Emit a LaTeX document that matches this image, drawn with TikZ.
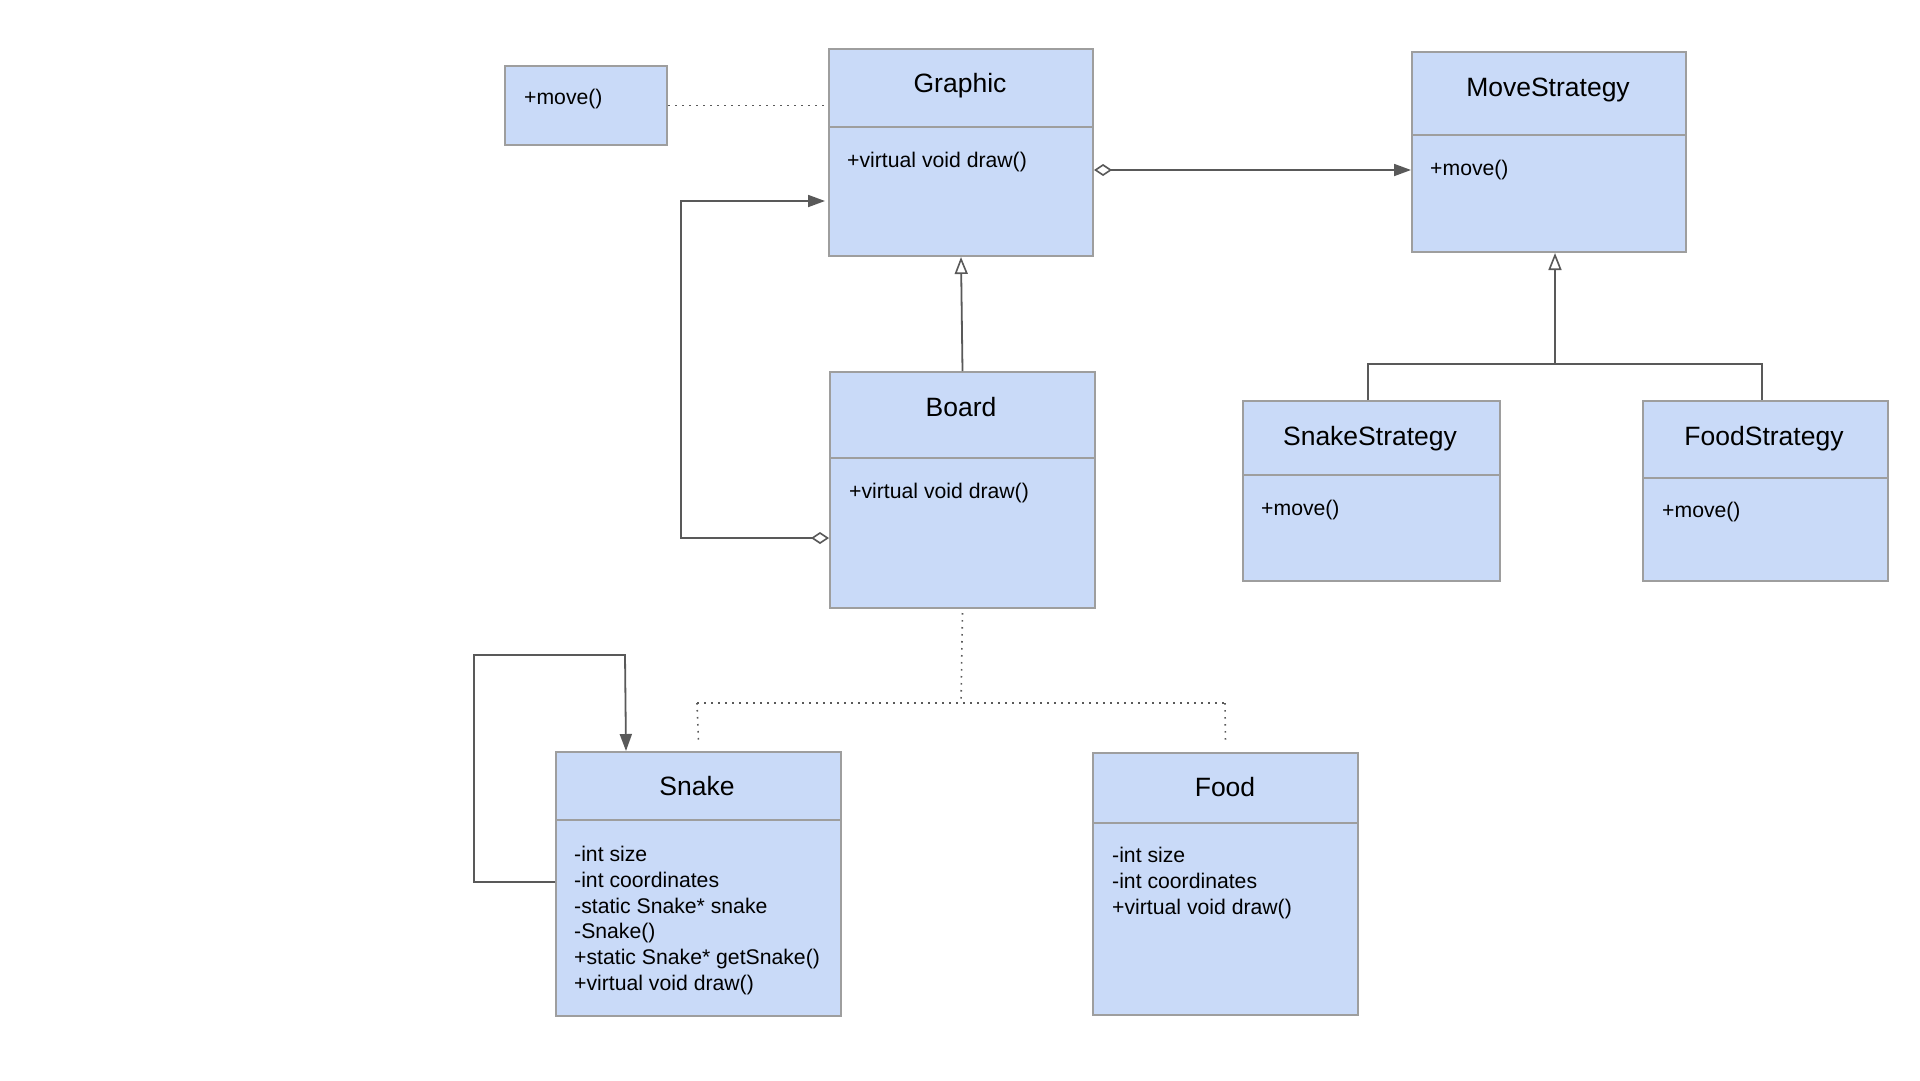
\documentclass[tikz,border=0pt]{standalone}
\usepackage{fontspec}
\setmainfont{Liberation Sans}
\usetikzlibrary{arrows.meta}
\definecolor{boxfill}{HTML}{C9DAF8}
\definecolor{boxline}{HTML}{9E9E9E}
\definecolor{conn}{HTML}{595959}
\begin{document}
\begin{tikzpicture}[x=1pt,y=-1pt,
  cls/.style={draw=boxline, fill=boxfill, line width=2pt, inner sep=0pt, anchor=north west},
  divider/.style={draw=boxline, line width=2pt},
  ttl/.style={font=\fontsize{26.5}{30}\selectfont, anchor=center, inner sep=0pt, text height=19pt, text depth=0pt},
  body/.style={font=\fontsize{21.2}{25.8}\selectfont, anchor=north west, align=left, inner sep=0pt},
  link/.style={draw=conn, line width=1.8pt},
  agg/.style={link, {Diamond[open,length=18pt,width=12pt,line width=1.6pt]}-{Triangle[length=17pt,width=12pt]}},
  assoc/.style={link, -{Triangle[length=17pt,width=12pt]}},
  inh/.style={link, -{Triangle[open,length=17pt,width=13pt,line width=1.6pt]}},
  dep/.style={draw=conn, line width=1.6pt, dash pattern=on 1.6pt off 5.4pt},
]
\useasboundingbox (0,0) rectangle (1920,1080);
\fill[white] (0,0) rectangle (1920,1080);

% +move() box
\node[cls, minimum width=162pt, minimum height=79pt] (mv) at (504,65) {};
\node[body] (mvB) at (524,89) {+move()};

% Graphic
\node[cls, minimum width=264pt, minimum height=207pt] (graphic) at (828,48) {};
\draw[divider] (graphic.west |- 0,127) -- (graphic.east |- 0,127);
\node[ttl] (graphicT) at (960,83) {Graphic};
\node[body] (graphicB) at (847,152) {+virtual void draw()};

% MoveStrategy
\node[cls, minimum width=274pt, minimum height=200pt] (ms) at (1411,51) {};
\draw[divider] (ms.west |- 0,135) -- (ms.east |- 0,135);
\node[ttl] (msT) at (1548,87) {MoveStrategy};
\node[body] (msB) at (1430,160) {+move()};

% Board
\node[cls, minimum width=265pt, minimum height=236pt] (board) at (829,371) {};
\draw[divider] (board.west |- 0,458) -- (board.east |- 0,458);
\node[ttl] (boardT) at (961,407) {Board};
\node[body] (boardB) at (849,483) {+virtual void draw()};

% SnakeStrategy
\node[cls, minimum width=257pt, minimum height=180pt] (ss) at (1242,400) {};
\draw[divider] (ss.west |- 0,475) -- (ss.east |- 0,475);
\node[ttl] (ssT) at (1370,436) {SnakeStrategy};
\node[body] (ssB) at (1261,500) {+move()};

% FoodStrategy
\node[cls, minimum width=245pt, minimum height=180pt] (fs) at (1642,400) {};
\draw[divider] (fs.west |- 0,478) -- (fs.east |- 0,478);
\node[ttl] (fsT) at (1764,436) {FoodStrategy};
\node[body] (fsB) at (1662,502) {+move()};

% Snake
\node[cls, minimum width=285pt, minimum height=264pt] (snake) at (555,751) {};
\draw[divider] (snake.west |- 0,820) -- (snake.east |- 0,820);
\node[ttl] (snakeT) at (697,786) {Snake};
\node[body] (snakeB) at (574,846) {-int size\\-int coordinates\\-static Snake* snake\\-Snake()\\+static Snake* getSnake()\\+virtual void draw()};

% Food
\node[cls, minimum width=265pt, minimum height=262pt] (food) at (1092,752) {};
\draw[divider] (food.west |- 0,823) -- (food.east |- 0,823);
\node[ttl] (foodT) at (1225,787) {Food};
\node[body] (foodB) at (1112,847) {-int size\\-int coordinates\\+virtual void draw()};

% connectors
\draw[dep] (mv.east) -- ([xshift=-4pt]graphic.west |- mv.east);
\draw[agg] (graphic.east |- 0,170) -- (ms.west |- 0,170);
\draw[inh] (board.north) -- (graphic.south);
\draw[agg] (board.west |- 0,538) -- (681,538) -- (681,201) -- ([xshift=-3pt]graphic.west |- 0,201);

\coordinate (junc) at (1555,364);
\draw[link] (ss.north -| 1368,0) -- (1368,364) -- (1762,364) -- (fs.north -| 1762,0);
\draw[inh] (junc) -- (ms.south -| junc);

\coordinate (djunc) at (961,703);
\draw[dep] ([yshift=-4pt]board.south) -- (djunc);
\draw[dep] (697,703) -- (1225,703);
\draw[dep] (697,703) -- ([yshift=8pt]snake.north);
\draw[dep] (1225,703) -- ([yshift=8pt]food.north);

\draw[assoc] (snake.west |- 0,882) -- (474,882) -- (474,655) -- (625,655) -- (snake.north -| 626,0);
\end{tikzpicture}
\end{document}
